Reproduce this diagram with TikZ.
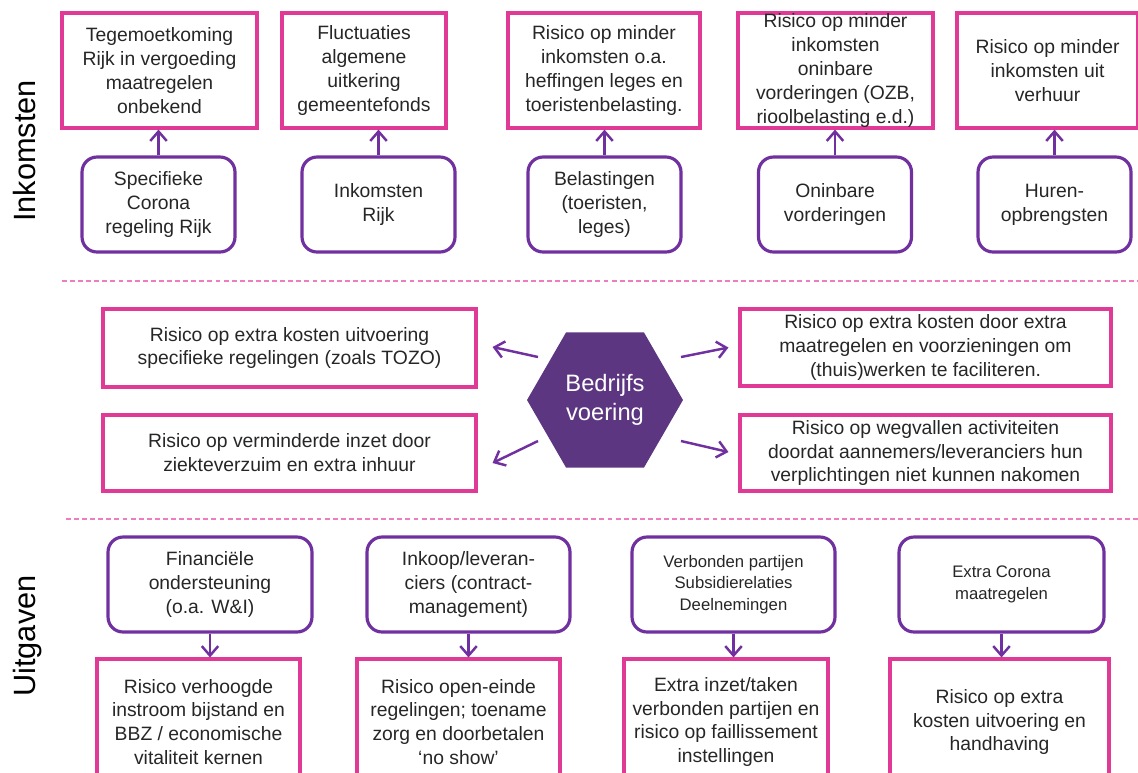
\documentclass[tikz,border=0pt]{standalone}
\usepackage{fontspec}
\setmainfont{Liberation Sans}
\usetikzlibrary{arrows.meta,shapes.geometric}

\definecolor{riskpink}{RGB}{224,58,150}
\definecolor{srcpurple}{RGB}{112,48,160}
\definecolor{hexpurple}{RGB}{92,54,129}
\definecolor{linepink}{RGB}{236,125,190}
\definecolor{txtgray}{RGB}{38,38,38}

\tikzset{
  risk/.style={draw=riskpink, line width=1.8pt, rectangle, align=center, inner sep=0pt,
    text=txtgray, font=\fontsize{11}{13.6}\selectfont},
  src/.style={draw=srcpurple, line width=1.8pt, rounded corners=0.3cm, align=center, inner sep=0pt,
    text=txtgray, font=\fontsize{11}{13.6}\selectfont, minimum height=1.9cm},
  arr/.style={draw=srcpurple, line width=1.4pt, -{Straight Barb[length=1.9mm,width=3.3mm]}},
  sep/.style={draw=linepink, line width=0.8pt, dash pattern=on 2.8pt off 1.8pt},
  side/.style={rotate=90, anchor=base, font=\fontsize{17.5}{20}\selectfont, text=black},
}

\begin{document}
\begin{tikzpicture}[x=0.02cm, y=-0.02cm]
\useasboundingbox (0,0) rectangle (1138,772);
\clip (0,0) rectangle (1138,772);

% inkomsten
\node[side] (inkomsten) at (35,151) {Inkomsten};
\node[risk, minimum width=3.9cm, minimum height=2.3cm] (t1) at (159.5,70.5) {Tegemoetkoming\\Rijk in vergoeding\\maatregelen\\onbekend};
\node[risk, minimum width=3.28cm, minimum height=2.3cm] (t2) at (364,70.5) {Fluctuaties\\algemene\\uitkering\\gemeentefonds};
\node[risk, minimum width=3.84cm, minimum height=2.3cm] (t3) at (604,70.5) {Risico op minder\\inkomsten o.a.\\heffingen leges en\\toeristenbelasting.};
\node[risk, minimum width=3.9cm, minimum height=2.3cm] (t4) at (835.5,70.5) {Risico op minder\\inkomsten\\oninbare\\vorderingen (OZB,\\rioolbelasting e.d.)};
\node[risk, minimum width=3.62cm, minimum height=2.3cm] (t5) at (1047.5,70.5) {Risico op minder\\inkomsten uit\\verhuur};

\node[src, minimum width=3.06cm] (r1) at (158.5,204.5) {Specifieke\\Corona\\regeling Rijk};
\node[src, minimum width=3.06cm] (r2) at (378.5,204.5) {Inkomsten\\Rijk};
\node[src, minimum width=3.06cm] (r3) at (604.5,204.5) {Belastingen\\(toeristen,\\leges)};
\node[src, minimum width=3.06cm] (r4) at (835,204.5) {Oninbare\\vorderingen};
\node[src, minimum width=3.06cm] (r5) at (1054.5,204.5) {Huren-\\opbrengsten};

\draw[arr] (r1.north) -- (r1.north |- t1.south);
\draw[arr] (r2.north) -- (r2.north |- t2.south);
\draw[arr] (r3.north) -- (r3.north |- t3.south);
\draw[arr] (r4.north) -- (r4.north |- t4.south);
\draw[arr] (r5.north) -- (r5.north |- t5.south);

\draw[sep] (62,281) -- (1138,281);

% bedrijfsvoering
\node[regular polygon, regular polygon sides=6, minimum size=3.12cm, inner sep=0pt, fill=hexpurple,
  text=white, align=center, font=\fontsize{13.5}{16.5}\selectfont] (hex) at (605,400) {Bedrijfs\\voering};
\node[risk, minimum width=7.46cm, minimum height=1.56cm] (m1) at (289.5,348) {Risico op extra kosten uitvoering\\specifieke regelingen (zoals TOZO)};
\node[risk, minimum width=7.46cm, minimum height=1.52cm] (m2) at (289.5,453) {Risico op verminderde inzet door\\ziekteverzuim en extra inhuur};
\node[risk, minimum width=7.42cm, minimum height=1.54cm] (m3) at (925.5,347.5) {Risico op extra kosten door extra\\maatregelen en voorzieningen om\\(thuis)werken te faciliteren.};
\node[risk, minimum width=7.42cm, minimum height=1.52cm] (m4) at (925.5,453) {Risico op wegvallen activiteiten\\doordat aannemers/leveranciers hun\\verplichtingen niet kunnen nakomen};

\draw[arr] ([shift={(-67,-43)}]hex.center) -- ([shift={(15,-1)}]m1.east);
\draw[arr] ([shift={(-67,41)}]hex.center) -- ([shift={(15,10)}]m2.east);
\draw[arr] ([shift={(76,-43)}]hex.center) -- ([shift={(-10,0)}]m3.west);
\draw[arr] ([shift={(76,41)}]hex.center) -- ([shift={(-10,-1)}]m4.west);

\draw[sep] (66,519) -- (1138,519);

% uitgaven
\node[side] (uitgaven) at (35,636) {Uitgaven};
\node[src, minimum width=4.08cm] (u1) at (210,584.5) {Financiële\\ondersteuning\\(o.a. W\&I)};
\node[src, minimum width=4.06cm] (u2) at (468.5,584.5) {Inkoop/leveran-\\ciers (contract-\\management)};
\node[src, minimum width=4.06cm, font=\fontsize{9.5}{12.2}\selectfont] (u3) at (733.5,584.5) {Verbonden partijen\\Subsidierelaties\\Deelnemingen};
\node[src, minimum width=4.1cm, font=\fontsize{9.5}{12.2}\selectfont] (u4) at (1001.5,584.5) {Extra Corona\\maatregelen};

\node[risk, minimum width=4.06cm, minimum height=2.52cm] (p1) at (198.5,722) {Risico verhoogde\\instroom bijstand en\\BBZ / economische\\vitaliteit kernen};
\node[risk, minimum width=4.06cm, minimum height=2.52cm] (p2) at (458.5,722) {Risico open-einde\\regelingen; toename\\zorg en doorbetalen\\‘no show’};
\node[risk, minimum width=4.08cm, minimum height=2.52cm] (p3) at (726,722) {Extra inzet/taken\\verbonden partijen en\\risico op faillissement\\instellingen};
\node[risk, minimum width=4.38cm, minimum height=2.52cm] (p4) at (999.5,722) {Risico op extra\\kosten uitvoering en\\handhaving};

\draw[arr] (u1.south) -- (u1.south |- p1.north);
\draw[arr] (u2.south) -- (u2.south |- p2.north);
\draw[arr] (u3.south) -- (u3.south |- p3.north);
\draw[arr] (u4.south) -- (u4.south |- p4.north);
\end{tikzpicture}
\end{document}
